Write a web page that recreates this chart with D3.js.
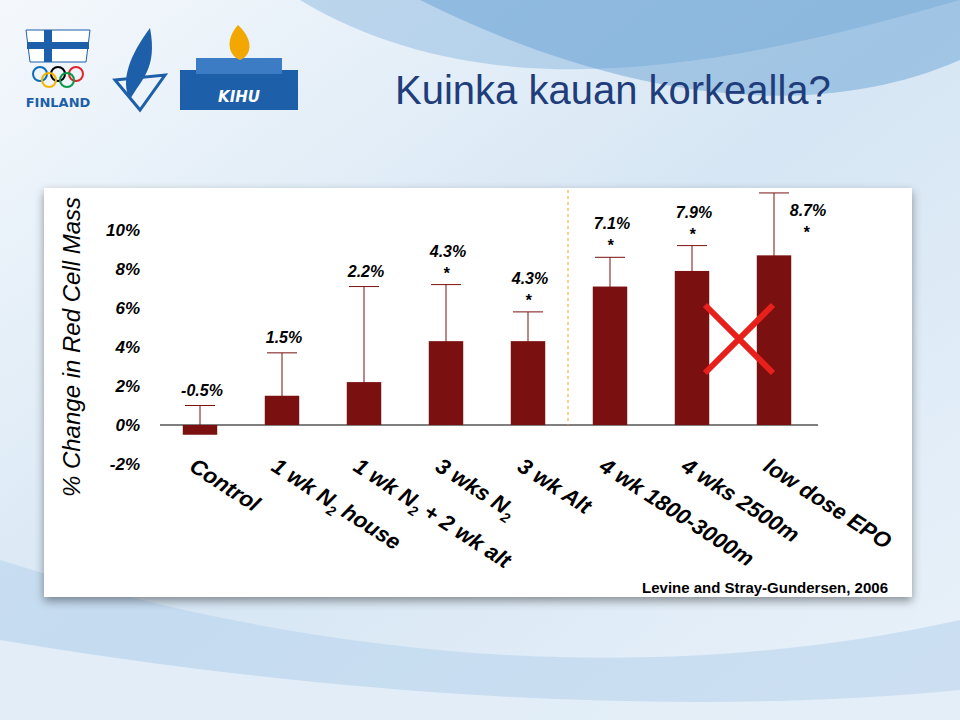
<!DOCTYPE html>
<html><head><meta charset="utf-8">
<script src="https://cdn.jsdelivr.net/npm/d3@7"></script>
<style>body{margin:0}svg{display:block}</style>
</head><body>
<svg id="c" width="960" height="720"></svg>
<script>
const categories = ["Control", "1 wk N₂ house", "1 wk N₂ + 2 wk alt", "3 wks N₂", "3 wk Alt", "4 wk 1800-3000m", "4 wks 2500m", "low dose EPO"];
const catParts = [
  [["Control"]],
  [["1 wk N"], ["2", "sub"], [" house"]],
  [["1 wk N"], ["2", "sub"], [" + 2 wk alt"]],
  [["3 wks N"], ["2", "sub"]],
  [["3 wk Alt"]],
  [["4 wk 1800-3000m"]],
  [["4 wks 2500m"]],
  [["low dose EPO"]]
];
const values = [-0.5, 1.5, 2.2, 4.3, 4.3, 7.1, 7.9, 8.7];
const errorTops = [1.0, 3.7, 7.1, 7.2, 5.8, 8.6, 9.2, 11.9];
const significant = [false, false, false, true, true, true, true, true];
const yTicks = [-2, 0, 2, 4, 6, 8, 10];

const data = categories.map((c, i) => ({ c, v: values[i], e: errorTops[i], s: significant[i] }));

const svg = d3.select("#c");
const defs = svg.append("defs");
const bg = defs.append("linearGradient").attr("id", "bg").attr("x1", 0).attr("y1", 0).attr("x2", 1).attr("y2", 1);
bg.append("stop").attr("offset", 0).attr("stop-color", "#f4f8fc");
bg.append("stop").attr("offset", 0.5).attr("stop-color", "#d6e6f4");
bg.append("stop").attr("offset", 1).attr("stop-color", "#eaf2fa");
svg.append("rect").attr("width", 960).attr("height", 720).attr("fill", "url(#bg)");
svg.append("path").attr("d", "M300,0 C500,120 750,60 960,0 Z").attr("fill", "#8cb8e0").attr("opacity", 0.5);
svg.append("path").attr("d", "M420,0 C600,90 800,130 960,60 L960,0 Z").attr("fill", "#5f9bd0").attr("opacity", 0.45);
svg.append("path").attr("d", "M0,560 C250,640 600,700 960,620 L960,720 L0,720 Z").attr("fill", "#b9d4ec").attr("opacity", 0.6);
svg.append("path").attr("d", "M0,640 C300,690 650,720 960,690 L960,720 L0,720 Z").attr("fill", "#e8f1f9").attr("opacity", 0.8);

// logos (simplified)
const lg = svg.append("g");
lg.append("path").attr("d", "M26,30 L90,30 L86,62 L30,62 Z").attr("fill", "#fff").attr("stroke", "#1d5fa8");
lg.append("rect").attr("x", 44).attr("y", 30).attr("width", 8).attr("height", 32).attr("fill", "#1d5fa8");
lg.append("rect").attr("x", 27).attr("y", 42).attr("width", 62).attr("height", 7).attr("fill", "#1d5fa8");
[[40, 74, "#0a6ebd"], [58, 74, "#000"], [76, 74, "#e0262d"], [49, 80, "#f4b400"], [67, 80, "#0a9a48"]].forEach(r =>
  lg.append("circle").attr("cx", r[0]).attr("cy", r[1]).attr("r", 7).attr("fill", "none").attr("stroke", r[2]).attr("stroke-width", 2));
lg.append("text").attr("x", 58).attr("y", 107).attr("text-anchor", "middle").attr("font-family", "DejaVu Sans").attr("font-size", 13).attr("font-weight", "bold").attr("fill", "#1d5fa8").text("FINLAND");
lg.append("path").attr("d", "M150,28 C130,55 120,80 130,100 C140,80 158,70 150,28 Z").attr("fill", "#1d5fa8");
lg.append("path").attr("d", "M115,80 L165,75 L140,110 Z").attr("fill", "none").attr("stroke", "#1d5fa8").attr("stroke-width", 3);
lg.append("rect").attr("x", 180).attr("y", 70).attr("width", 118).attr("height", 40).attr("fill", "#1d5fa8");
lg.append("rect").attr("x", 196).attr("y", 58).attr("width", 86).attr("height", 16).attr("fill", "#3b7cc4");
lg.append("path").attr("d", "M238,25 C225,40 228,55 240,60 C252,55 254,40 238,25 Z").attr("fill", "#f2a800");
lg.append("text").attr("x", 239).attr("y", 102).attr("text-anchor", "middle").attr("font-family", "DejaVu Sans").attr("font-size", 15).attr("font-style", "italic").attr("font-weight", "bold").attr("fill", "#fff").text("KIHU");

svg.append("text").attr("x", 395).attr("y", 104).attr("font-family", "Liberation Sans, Arial").attr("font-size", 40).attr("fill", "#1f3d7a").text("Kuinka kauan korkealla?");

// panel
const sh = defs.append("filter").attr("id", "sh");
sh.append("feDropShadow").attr("dx", 0).attr("dy", 4).attr("stdDeviation", 5).attr("flood-opacity", 0.4);
svg.append("rect").attr("x", 44).attr("y", 188).attr("width", 868).attr("height", 409).attr("fill", "#fff").attr("filter", "url(#sh)");

const x = d3.scaleBand().domain(categories).range([159, 815]).paddingInner(0.58).paddingOuter(0.29);
const y = d3.scaleLinear().domain([-2, 10]).range([464, 230]);
const cx = d => x(d.c) + x.bandwidth() / 2;
const g = svg.append("g").attr("font-family", "Liberation Sans, Arial").attr("font-weight", "bold").attr("font-style", "italic");

g.append("g").attr("transform", "translate(160,0)")
  .call(d3.axisLeft(y).tickValues(yTicks).tickFormat(d => d + "%").tickSize(0).tickPadding(20))
  .call(a => a.select(".domain").remove())
  .selectAll("text").attr("font-size", 17).attr("font-family", "Liberation Sans, Arial").attr("fill", "#000");
g.append("line").attr("x1", 160).attr("x2", 818).attr("y1", y(0)).attr("y2", y(0)).attr("stroke", "#000");

svg.append("text").attr("transform", `translate(80,${y(4)}) rotate(-90)`).attr("text-anchor", "middle")
  .attr("font-family", "Liberation Sans, Arial").attr("font-style", "italic").attr("font-size", 24).text("% Change in Red Cell Mass");

const bars = g.selectAll(".bar").data(data).join("g");
bars.append("line").attr("x1", cx).attr("x2", cx)
  .attr("y1", y(0)).attr("y2", d => y(d.e)).attr("stroke", "#7a1010");
bars.append("line").attr("x1", d => cx(d) - 15).attr("x2", d => cx(d) + 15)
  .attr("y1", d => y(d.e)).attr("y2", d => y(d.e)).attr("stroke", "#7a1010");
bars.append("rect").attr("x", d => x(d.c)).attr("width", x.bandwidth())
  .attr("y", d => y(Math.max(0, d.v))).attr("height", d => Math.abs(y(d.v) - y(0))).attr("fill", "#7a1010");
// labels: above cap, but kept inside the panel (shifted right when clamped)
const labY = d => Math.max(216, y(d.e) - (d.s ? 28 : 10));
const clamped = d => y(d.e) - (d.s ? 28 : 10) < 216;
bars.append("text").attr("x", d => cx(d) + 2 + (clamped(d) ? 32 : 0))
  .attr("y", labY).attr("text-anchor", "middle").attr("font-size", 16)
  .text(d => d.v.toFixed(1) + "%");
bars.filter(d => d.s).append("text").attr("x", d => cx(d) + (clamped(d) ? 32 : 0))
  .attr("y", d => labY(d) + 22).attr("text-anchor", "middle").attr("font-size", 16).text("*");

data.forEach((d, i) => {
  const t = g.append("text").attr("transform", `translate(${cx(d) - 12},${y(-2.3)}) rotate(33)`).attr("font-size", 22);
  catParts[i].forEach((p, j) => {
    const s = t.append("tspan").text(p[0]);
    if (p[1]) s.attr("font-size", 14).attr("dy", 6);
    else if (j > 0) s.attr("dy", -6);
  });
});

svg.append("line").attr("x1", 568).attr("x2", 568).attr("y1", 190).attr("y2", y(0)).attr("stroke", "#f0a020").attr("stroke-dasharray", "3,3");
svg.append("path").attr("d", "M705,305 L773,373 M773,305 L705,373").attr("stroke", "#e8201c").attr("stroke-width", 6);
svg.append("text").attr("x", 888).attr("y", 593).attr("text-anchor", "end").attr("font-family", "Liberation Sans, Arial").attr("font-weight", "bold").attr("font-size", 15).text("Levine and Stray-Gundersen, 2006");
</script>
</body></html>
